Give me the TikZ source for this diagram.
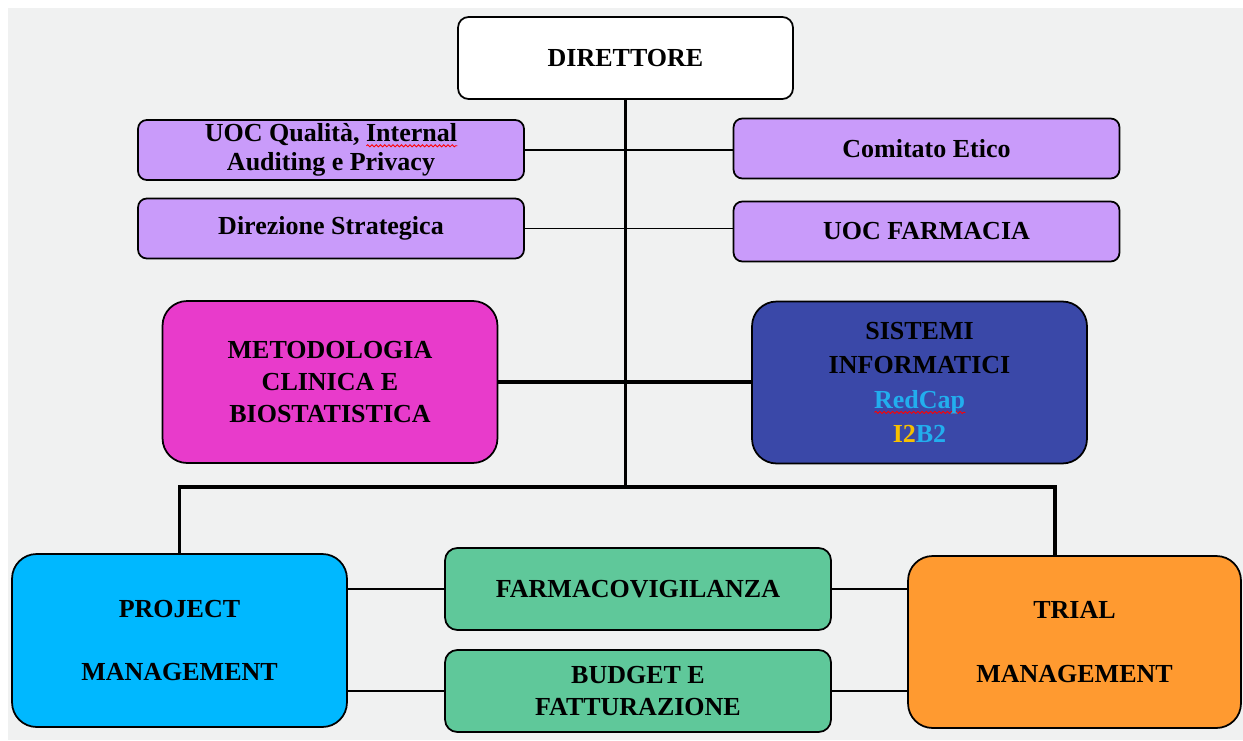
\documentclass[tikz,border=0pt]{standalone}
\usepackage{fontspec}
\setmainfont{Liberation Serif}
\usetikzlibrary{positioning,decorations.pathmorphing}

\definecolor{sfondo}{HTML}{F0F1F1}
\definecolor{lilla}{HTML}{C99BFA}
\definecolor{magenta}{HTML}{E83BCB}
\definecolor{blunotte}{HTML}{3A48A8}
\definecolor{azzurro}{HTML}{00B8FF}
\definecolor{verde}{HTML}{5FC89A}
\definecolor{arancio}{HTML}{FF9A30}
\definecolor{celeste}{HTML}{22AEEE}
\definecolor{giallo}{HTML}{F7C000}

% red wavy spell-check underline
\newsavebox\ondinabox
\newcommand\ondina[1]{\sbox\ondinabox{#1}%
  \makebox[0pt][l]{\raisebox{-3.2pt}{\tikz[x=1cm,y=1cm,sharp corners]\draw[red,line width=0.5pt,
    sharp corners,decorate,decoration={snake,amplitude=0.6pt,segment length=2.4pt}]
    (0,0) -- (\wd\ondinabox,0);}}\usebox\ondinabox}

\begin{document}
\begin{tikzpicture}[x=0.02cm,y=-0.02cm,
   box/.style={draw=black,line width=1pt,align=center,inner sep=0pt,
     font=\fontsize{14.8}{18.2}\selectfont\bfseries},
   ufficio/.style={box,fill=lilla,rounded corners=5pt,
     minimum width=7.72cm,minimum height=1.2cm,
     font=\fontsize{14.8}{16.5}\selectfont\bfseries},
   area/.style={box,rounded corners=14pt,minimum width=6.7cm,minimum height=3.24cm},
   servizio/.style={box,fill=verde,rounded corners=7pt,
     minimum width=7.72cm,minimum height=1.64cm},
   filo/.style={line width=0.9pt},
   tronco/.style={line width=1.8pt}]
   \path[use as bounding box] (0,0) rectangle (1243,740);
   \fill[sfondo] (8,8) rectangle (1243,740);

   % vertice
   \node[box,fill=white,rounded corners=6pt,minimum width=6.7cm,minimum height=1.64cm]
     (dir) at (625.5,58) {DIRETTORE};

   % uffici di staff
   \node[ufficio] (qual) at (331,150) {UOC Qualità, \ondina{Internal}\\Auditing e Privacy};
   \node[ufficio] (etico) at (926.5,148.5) {Comitato Etico};
   \node[ufficio] (strat) at (331,228.5) {Direzione Strategica};
   \node[ufficio] (farm) at (926.5,231.5) {UOC FARMACIA};

   % aree
   \node[area,fill=magenta] (metod) at (330,382)
     {METODOLOGIA\\CLINICA E\\BIOSTATISTICA};
   \node[area,fill=blunotte,font=\fontsize{14.8}{19.6}\selectfont\bfseries] (sist) at (919.5,382.5)
     {SISTEMI\\INFORMATICI\\\textcolor{celeste}{\ondina{RedCap}}\\\textcolor{giallo}{I2}\textcolor{celeste}{B2}};
   \node[area,fill=azzurro,minimum height=3.46cm] (proj) at (179.5,640.5)
     {PROJECT\\[18pt]MANAGEMENT};
   \node[area,fill=arancio,minimum width=6.66cm,minimum height=3.44cm] (trial) at (1074.5,642)
     {TRIAL\\[18pt]MANAGEMENT};

   % servizi
   \node[servizio] (fv) at (638,589) {FARMACOVIGILANZA};
   \node[servizio] (bud) at (638,691) {BUDGET E\\FATTURAZIONE};

   \coordinate (snodo) at (625.5,487);
   \coordinate (trialtop) at (1055,556);

   % collegamenti
   \draw[filo] (qual.east) -- (qual.east -| etico.west);
   \draw[filo] (strat.east) -- (strat.east -| farm.west);
   \draw[tronco] (metod.east) -- (metod.east -| sist.west);
   \draw[tronco] (dir.south) -- (snodo);
   \draw[tronco] (proj.north) -- (proj.north |- snodo) -- (trialtop |- snodo) -- (trialtop);
   \draw[filo] (fv.west -| proj.east) -- (fv.west);
   \draw[filo] (fv.east) -- (fv.east -| trial.west);
   \draw[filo] (bud.west -| proj.east) -- (bud.west);
   \draw[filo] (bud.east) -- (bud.east -| trial.west);
\end{tikzpicture}
\end{document}
